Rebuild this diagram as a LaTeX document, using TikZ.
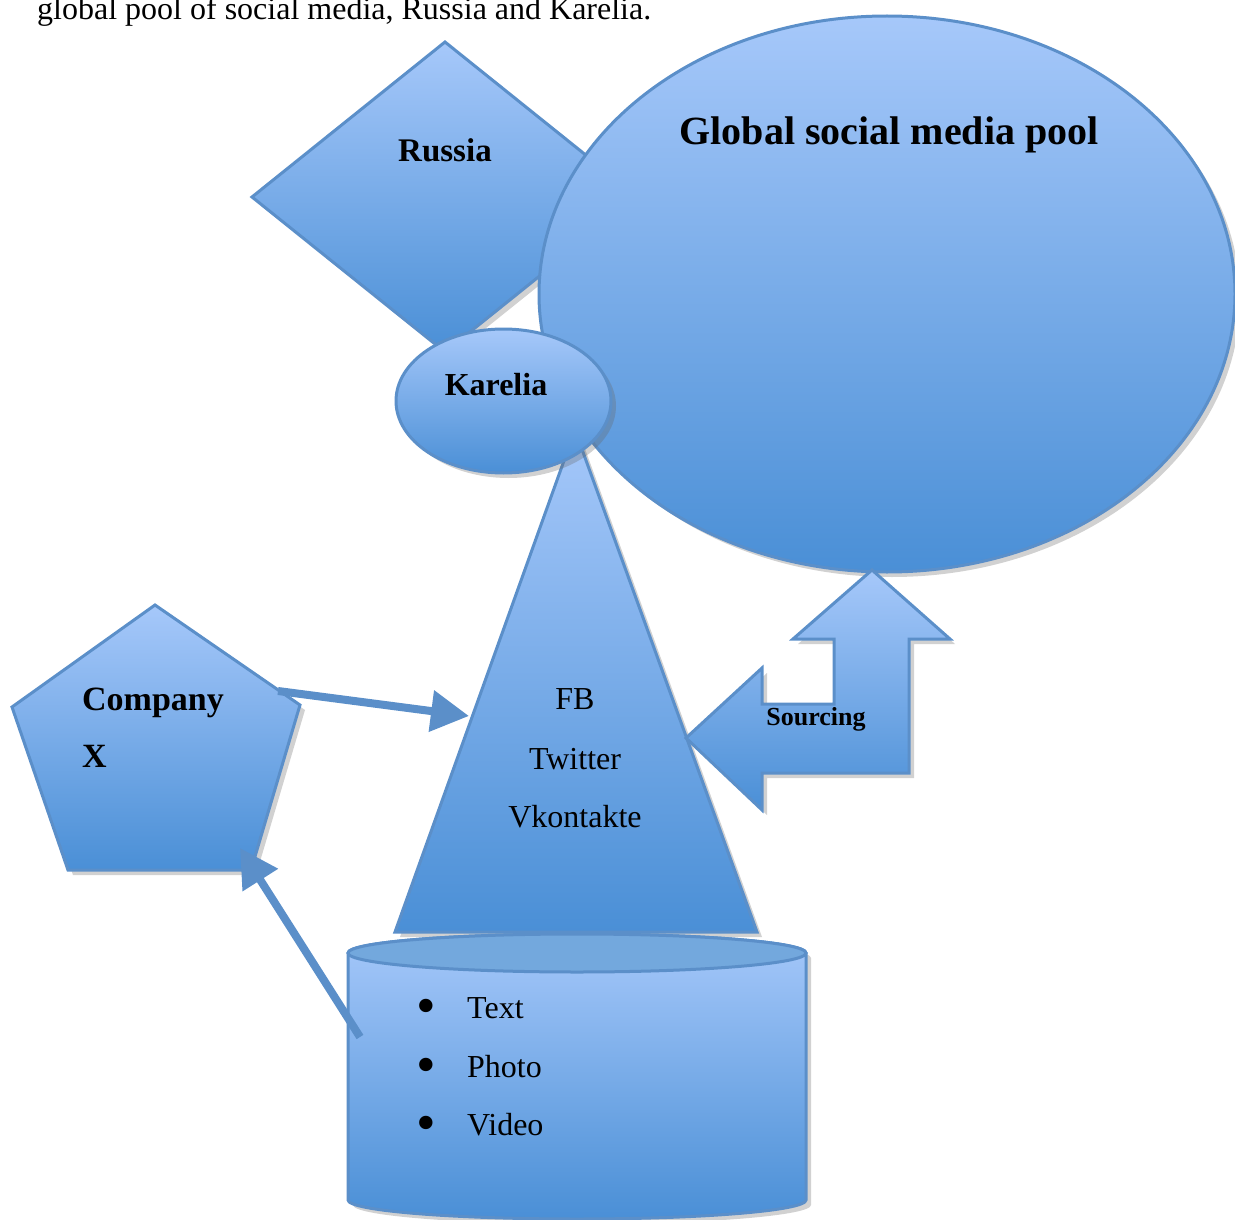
\documentclass[tikz,border=0pt]{standalone}
\usepackage{fontspec}
\setmainfont{Liberation Serif}
\usepackage{xcolor}
\usepackage{tikz}
\usetikzlibrary{positioning,arrows.meta,shadows}
\definecolor{smTop}{HTML}{A6C8FA}
\definecolor{smBot}{HTML}{4A8FD6}
\definecolor{smEdge}{HTML}{5B8FC9}
\definecolor{smCap}{HTML}{73A8DD}
\newcommand{\fs}[1]{\fontsize{#1}{#1}\selectfont}
\tikzset{
  blob/.style={draw=smEdge, line width=3pt, top color=smTop, bottom color=smBot,
    drop shadow={shadow xshift=5pt, shadow yshift=-5pt, opacity=0.3, fill=black!60}},
  lbl/.style={font=\bfseries\fs{33}, inner sep=0pt},
  plain/.style={font=\fs{32}, inner sep=0pt},
  fatarrow/.style={draw=smEdge, line width=8pt, -{Triangle[length=38pt,width=40pt]}}
}

\begin{document}
\begin{tikzpicture}[x=1pt,y=1pt]
  \useasboundingbox (0,0) rectangle (1235,-1220);
  \node[plain, anchor=base west] (intro) at (37,-20) {global pool of social media, Russia and Karelia.};

  \draw[blob] (445,-42) -- (638,-197) -- (445,-352) -- (252,-197) -- cycle;
  \node[lbl] (russia) at (445,-150) {Russia};

  \draw[blob] (887,-294) ellipse[x radius=348pt, y radius=278pt];
  \node[lbl, font=\bfseries\fs{40}] (pool) at (889,-135) {Global social media pool};

  \draw[blob] (575,-430) -- (757,-932) -- (395,-932) -- cycle;
  \node[plain, anchor=base] (fb) at (575,-709) {FB};
  \node[plain, anchor=base] (twitter) at (575,-769) {Twitter};
  \node[plain, anchor=base] (vk) at (575,-827) {Vkontakte};

  \draw[blob] (503.5,-401) ellipse[x radius=107.5pt, y radius=72pt];
  \node[lbl, font=\bfseries\fs{32}] (karelia) at (496,-385) {Karelia};

  \draw[blob] (872,-570) -- (950,-639) -- (909,-639) -- (909,-773) -- (762,-773)
    -- (762,-810) -- (686,-738) -- (762,-668) -- (762,-704) -- (834,-704)
    -- (834,-639) -- (793,-639) -- cycle;
  \node[lbl, font=\bfseries\fs{26}, anchor=base] (sourcing) at (816,-725) {Sourcing};

  \draw[blob] (155,-605) -- (300,-705) -- (251,-870) -- (68,-870) -- (12,-707) -- cycle;
  \node[lbl, font=\bfseries\fs{34}, anchor=base west] (company) at (82,-710) {Company};
  \node[lbl, font=\bfseries\fs{34}, anchor=base west] (compx) at (82,-767) {X};

  \draw[blob] (348,-953) -- (348,-1200) arc[start angle=180, end angle=360, x radius=229pt, y radius=19pt]
    -- (806,-953) arc[start angle=0, end angle=180, x radius=229pt, y radius=19pt] -- cycle;
  \draw[draw=smEdge, line width=3pt, fill=smCap] (577,-953) ellipse[x radius=229pt, y radius=19pt];
  \foreach \item/\yy in {Text/1018, Photo/1077, Video/1135} {
    \node[font=\fs{56}, inner sep=0pt] (dot\item) at (426,-\yy+6) {\textbullet};
    \node[plain, anchor=base west] (\item) at (467,-\yy) {\item};
  }

  \coordinate (compOut) at (278,-691);
  \coordinate (pyrIn) at (469,-716);
  \coordinate (cylOut) at (360,-1037);
  \coordinate (compIn) at (240,-848);
  \draw[fatarrow] (compOut) -- (pyrIn);
  \draw[fatarrow] (cylOut) -- (compIn);
\end{tikzpicture}
\end{document}
